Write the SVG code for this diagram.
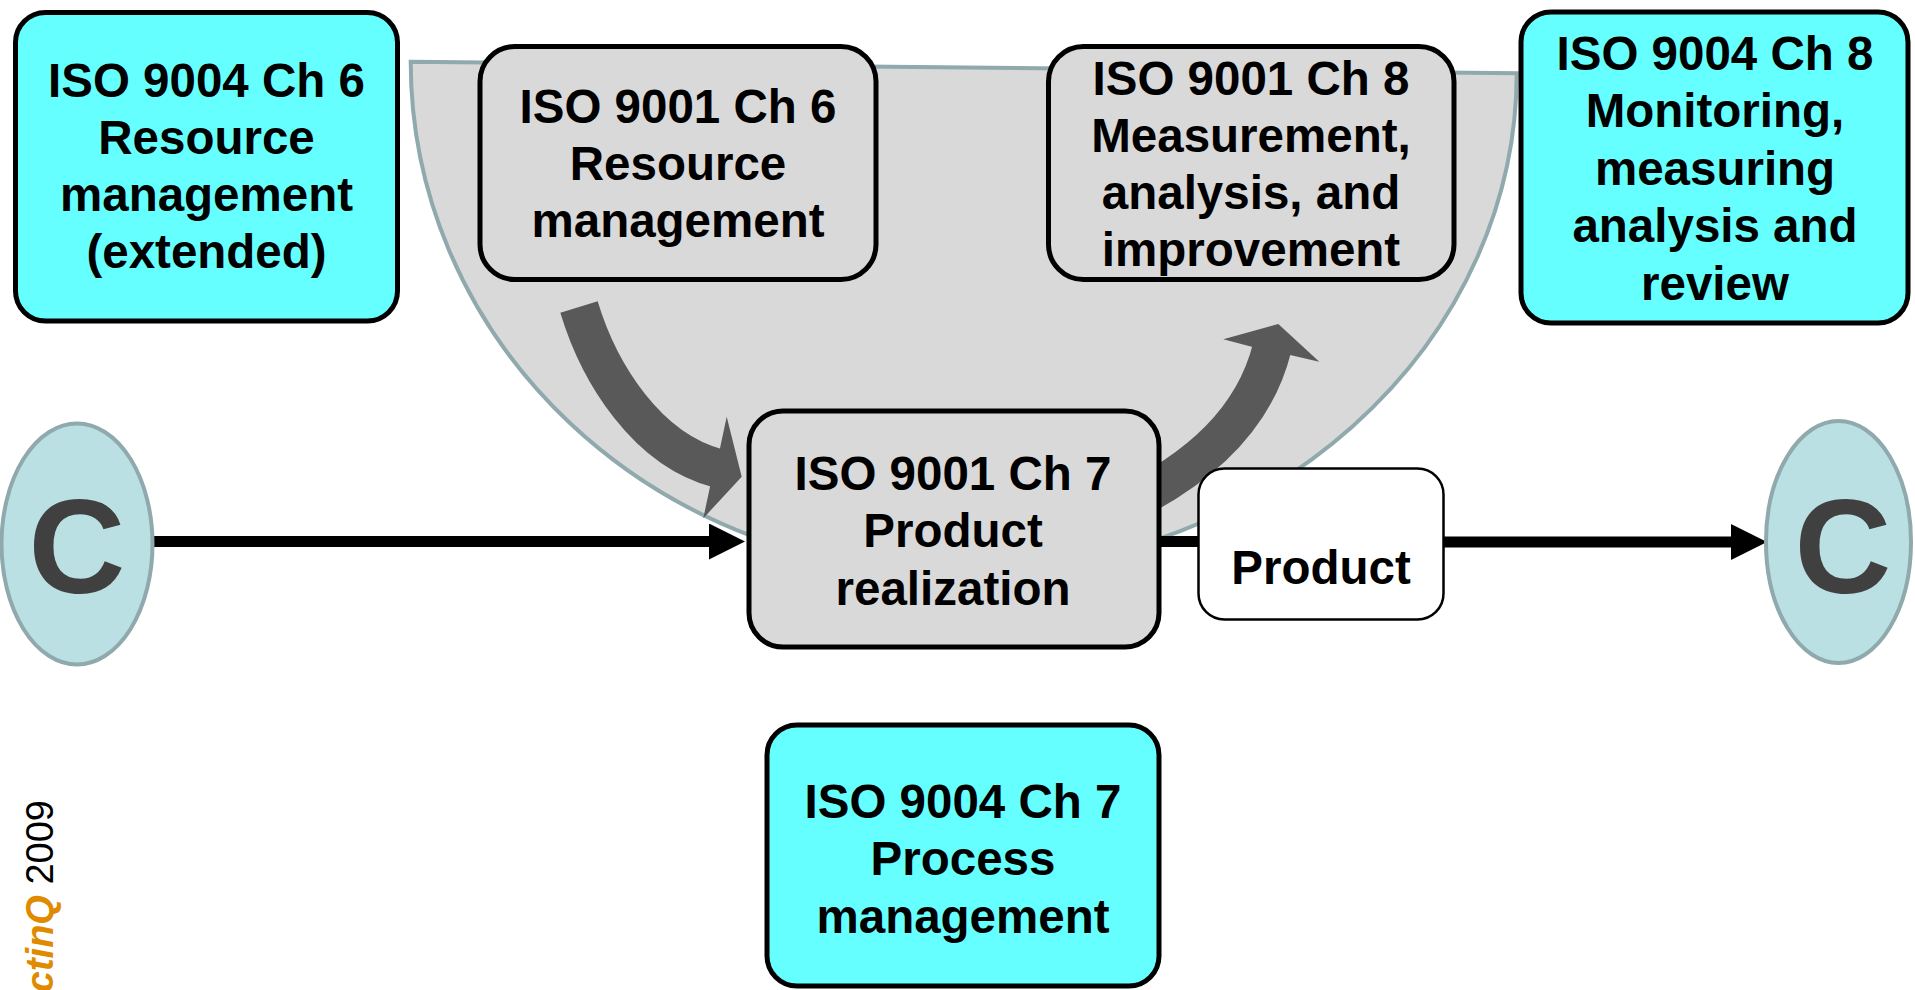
<svg xmlns="http://www.w3.org/2000/svg" width="1915" height="990" viewBox="0 0 1915 990">
<style>
  .t{font-family:"Liberation Sans",Arial,Helvetica,sans-serif;font-weight:bold;font-size:47.5px;fill:#000;text-anchor:middle}
  .cyan{fill:#66FFFF;stroke:#000;stroke-width:5}
  .gray{fill:#D9D9D9;stroke:#000;stroke-width:5}
  .prod{fill:#FFFFFF;stroke:#000;stroke-width:2.5}
  .cust{fill:#BAE0E3;stroke:#8FA9AC;stroke-width:4}
  .cl{font-family:"Liberation Sans",Arial,Helvetica,sans-serif;font-weight:bold;font-size:134px;fill:#404040;text-anchor:middle}
  .flow{stroke:#000;stroke-width:11;fill:none}
  .big{stroke:#595959;stroke-width:39;fill:none;stroke-linecap:butt}
  .bighead{fill:#595959}
</style>
<defs>
  <marker id="ah" markerUnits="userSpaceOnUse" markerWidth="36" markerHeight="36" viewBox="0 0 36 36" refX="1" refY="18" orient="auto">
    <path d="M0,0 L36,18 L0,36 Z" fill="#000"/>
  </marker>
</defs>

<g id="bowl">
  <path d="M410.7,61.7 L1516.7,73.3 A561.7 499.7 0 0 1 955,573 A544.3 511.3 0 0 1 410.7,61.7 Z" fill="#D9D9D9" stroke="#8FA9AC" stroke-width="4" stroke-linejoin="miter"/>
</g>

<g id="connectors">
  <path class="big" d="M579,307 C599.2,374 647.2,449.9 718,468.3"/>
  <polygon class="bighead" points="720,448.3 726.7,416.7 741.7,476.7 703.3,518.3 710,486.7"/>
  <path class="big" d="M1120,507 C1200,469.4 1254.2,418.9 1272,348"/>
  <polygon class="bighead" points="1251.7,346.7 1223.3,339.3 1278.3,324 1319.3,361.7 1290,355"/>
  <line class="flow" x1="150" y1="541.5" x2="710" y2="541.5" marker-end="url(#ah)"/>
  <line class="flow" x1="1159" y1="541.5" x2="1199" y2="541.5"/>
  <line class="flow" x1="1443" y1="542" x2="1732" y2="542" marker-end="url(#ah)"/>
</g>

<g id="iso9001-ch6">
  <rect class="gray" x="480" y="46.5" width="396" height="233" rx="35"/>
  <text class="t" x="678" y="123">ISO 9001 Ch 6</text>
  <text class="t" x="678" y="180">Resource</text>
  <text class="t" x="678" y="237">management</text>
</g>

<g id="iso9001-ch8">
  <rect class="gray" x="1048.5" y="46.5" width="405.5" height="233" rx="35"/>
  <text class="t" x="1251" y="95">ISO 9001 Ch 8</text>
  <text class="t" x="1251" y="152">Measurement,</text>
  <text class="t" x="1251" y="209">analysis, and</text>
  <text class="t" x="1251" y="266">improvement</text>
</g>

<g id="iso9001-ch7">
  <rect class="gray" x="749" y="411" width="410" height="236" rx="34"/>
  <text class="t" x="953" y="489.5">ISO 9001 Ch 7</text>
  <text class="t" x="953" y="547">Product</text>
  <text class="t" x="953" y="604.5">realization</text>
</g>

<g id="product">
  <rect class="prod" x="1198.5" y="468.5" width="245" height="151" rx="26"/>
  <text class="t" x="1321" y="584">Product</text>
</g>

<g id="customer-in">
  <ellipse class="cust" cx="77" cy="544" rx="75.5" ry="120.5"/>
  <text class="cl" x="77" y="593">C</text>
</g>

<g id="customer-out">
  <ellipse class="cust" cx="1838.5" cy="542" rx="72.5" ry="121"/>
  <text class="cl" x="1843" y="593">C</text>
</g>

<g id="iso9004-ch6">
  <rect class="cyan" x="15.5" y="12.5" width="382" height="308.5" rx="30"/>
  <text class="t" x="206.5" y="97">ISO 9004 Ch 6</text>
  <text class="t" x="206.5" y="154">Resource</text>
  <text class="t" x="206.5" y="211">management</text>
  <text class="t" x="206.5" y="268">(extended)</text>
</g>

<g id="iso9004-ch8">
  <rect class="cyan" x="1521" y="12" width="387" height="311" rx="30"/>
  <text class="t" x="1715" y="69.5">ISO 9004 Ch 8</text>
  <text class="t" x="1715" y="127">Monitoring,</text>
  <text class="t" x="1715" y="184.5">measuring</text>
  <text class="t" x="1715" y="242">analysis and</text>
  <text class="t" x="1715" y="299.5">review</text>
</g>

<g id="iso9004-ch7">
  <rect class="cyan" x="767" y="725" width="392" height="261" rx="30"/>
  <text class="t" x="963" y="817.5">ISO 9004 Ch 7</text>
  <text class="t" x="963" y="875">Process</text>
  <text class="t" x="963" y="932.5">management</text>
</g>

<g id="watermark" transform="translate(53,800) rotate(-90)">
  <text x="0" y="0" text-anchor="end" font-family="Liberation Sans, Arial, sans-serif" font-size="38px"><tspan fill="#E08A00" font-weight="bold" font-style="italic">ActinQ</tspan><tspan fill="#000"> 2009</tspan></text>
</g>
</svg>
